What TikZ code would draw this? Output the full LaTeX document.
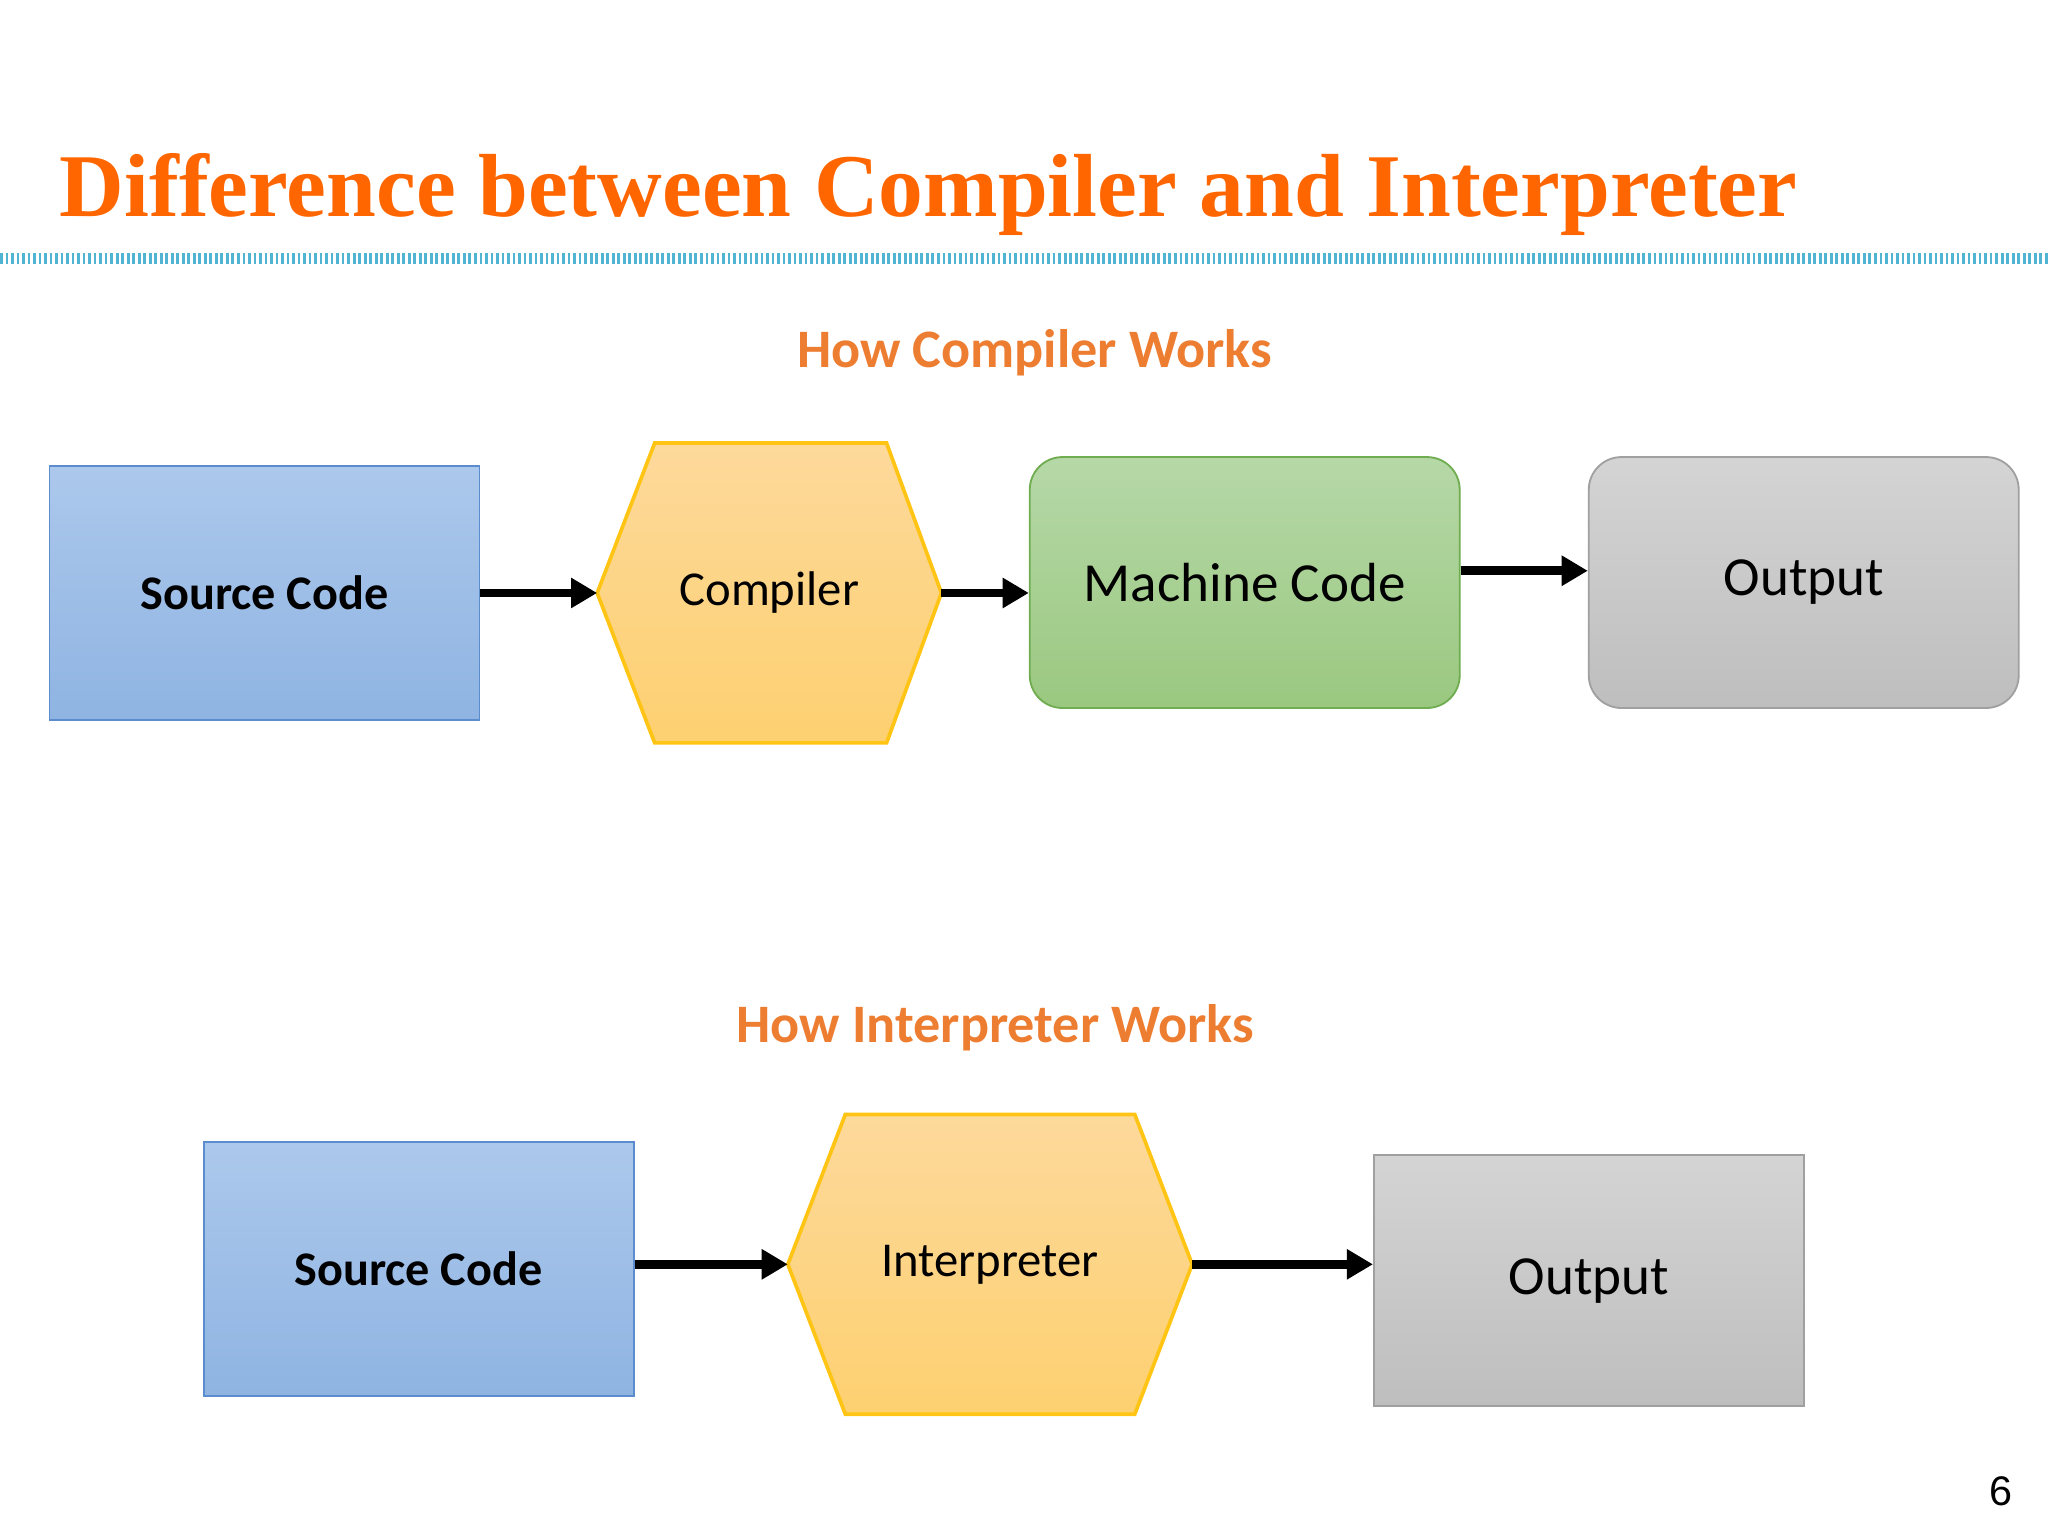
\documentclass[tikz,border=0pt]{standalone}
\usepackage{fontspec}
\setmainfont{Carlito}
\newfontfamily\titlefont{Liberation Serif}
\newfontfamily\numfont{Liberation Sans}
\usepackage{tikz}
\usetikzlibrary{arrows.meta, positioning, calc}
\definecolor{titleorange}{RGB}{255,102,0}
\definecolor{headorange}{RGB}{237,125,49}
\definecolor{blueA}{RGB}{172,200,236}
\definecolor{blueB}{RGB}{143,180,226}
\definecolor{blueL}{RGB}{91,140,205}
\definecolor{hexA}{RGB}{253,217,155}
\definecolor{hexB}{RGB}{253,208,112}
\definecolor{hexL}{RGB}{255,196,20}
\definecolor{greenA}{RGB}{182,216,168}
\definecolor{greenB}{RGB}{154,200,128}
\definecolor{greenL}{RGB}{112,172,80}
\definecolor{grayA}{RGB}{212,212,212}
\definecolor{grayB}{RGB}{190,190,190}
\definecolor{grayL}{RGB}{160,160,160}
\definecolor{dotcyan}{RGB}{80,180,210}
\begin{document}
\begin{tikzpicture}[
    x=0.01cm, y=-0.01cm,
    box/.style={rectangle, minimum width=3.29cm, minimum height=1.94cm, align=center},
    srcbox/.style={box, draw=blueL, top color=blueA, bottom color=blueB, font=\fontsize{10.5}{13}\selectfont\bfseries},
    greenbox/.style={box, rounded corners=0.25cm, minimum height=1.92cm, draw=greenL, top color=greenA, bottom color=greenB, font=\fontsize{12}{14}\selectfont},
    graybox/.style={box, minimum height=1.92cm, draw=grayL, top color=grayA, bottom color=grayB, font=\fontsize{12}{14}\selectfont},
    hexnode/.style={rectangle, minimum height=2.28cm, inner sep=0pt},
    hexshape/.style={draw=hexL, thick, top color=hexA, bottom color=hexB},
    heading/.style={font=\fontsize{11.8}{14}\selectfont\bfseries, text=headorange},
    arrow/.style={-{Triangle[length=0.2cm, width=0.22cm]}, line width=1.9pt}
]
\useasboundingbox (0,0) rectangle (1568,1176);

% title
\node[anchor=base west, inner sep=0pt, text=titleorange, font=\titlefont\fontsize{19.5}{23}\selectfont\bfseries] (title) at (45,166) {Difference between Compiler and Interpreter};
\coordinate (rulel) at (0,198);
\coordinate (ruler) at (1568,198);
\draw[dotcyan, line width=2.5pt, dash pattern=on 0.6pt off 0.6pt] (rulel) -- (ruler);

% compiler
\node[heading] (hc) at (792,270) {How Compiler Works};
\node[srcbox] (src1) at (202.5,454) {Source Code};
\node[hexnode, minimum width=2.62cm] (comp) at (589,454) {};
\draw[hexshape] (comp.west) -- ($(comp.north west)+(44,0)$) -- ($(comp.north east)+(-42,0)$) -- (comp.east)
    -- ($(comp.south east)+(-42,0)$) -- ($(comp.south west)+(44,0)$) -- cycle;
\node[font=\fontsize{10.6}{13}\selectfont] (complbl) at (comp) {Compiler};
\node[greenbox] (mc) at (953,446) {Machine Code};
\node[graybox, rounded corners=0.25cm] (out1) at (1381,446) {Output};
\draw[arrow] (src1) -- (comp.west);
\draw[arrow] (comp.east) -- (mc.west |- comp.east);
\draw[arrow] ([yshift=0.09cm]mc.east) -- ([yshift=0.09cm]out1.west);

% interpreter
\node[heading] (hi) at (762,787) {How Interpreter Works};
\node[srcbox] (src2) at (320.5,971.5) {Source Code};
\node[hexnode, minimum width=3.08cm] (interp) at (758,968) {};
\draw[hexshape] (interp.west) -- ($(interp.north west)+(44,0)$) -- ($(interp.north east)+(-44,0)$) -- (interp.east)
    -- ($(interp.south east)+(-44,0)$) -- ($(interp.south west)+(44,0)$) -- cycle;
\node[font=\fontsize{10.6}{13}\selectfont] (interplbl) at (interp) {Interpreter};
\node[graybox] (out2) at (1216.5,980.5) {Output};
\draw[arrow] (src2.east |- interp.west) -- (interp.west);
\draw[arrow] (interp.east) -- (out2.west |- interp.east);

% page number
\node[font=\numfont\fontsize{9}{11}\selectfont] (pg) at (1532,1142) {6};
\end{tikzpicture}
\end{document}
